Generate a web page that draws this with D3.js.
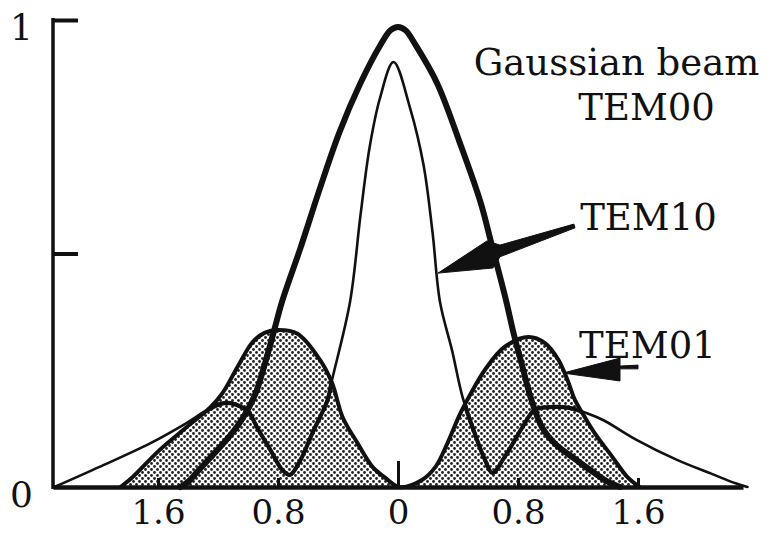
<!DOCTYPE html>
<html>
<head>
<meta charset="utf-8">
<script src="https://cdn.jsdelivr.net/npm/d3@7"></script>
<style>
  html, body { margin: 0; padding: 0; background: #ffffff; }
  svg { display: block; }
  text { font-family: "DejaVu Serif", "Liberation Serif", serif; fill: #111; }
</style>
</head>
<body>
<svg id="chart" width="773" height="535"></svg>
<script>
// Relative intensity profiles of laser transverse modes vs. radial position.

// TEM00 — Gaussian beam
const tem00X = [-1.45, -1.39, -1.34, -1.23, -1.12, -1.03, -0.95, -0.89, -0.83, -0.77, -0.65, -0.52, -0.39, -0.25, -0.12, -0.05, 0,
                0.05, 0.12, 0.26, 0.41, 0.55, 0.63, 0.72, 0.77, 0.83, 0.89, 0.96, 1.05, 1.18, 1.31, 1.40, 1.48];
const tem00Y = [0, 0.014, 0.032, 0.07, 0.11, 0.15, 0.2, 0.261, 0.33, 0.40, 0.512, 0.64, 0.76, 0.865, 0.945, 0.978, 0.985,
                0.978, 0.945, 0.865, 0.739, 0.61, 0.512, 0.40, 0.33, 0.257, 0.186, 0.128, 0.092, 0.06, 0.03, 0.011, 0];

// TEM10 — central peak with two side lobes
const tem10X = [-2.29, -1.99, -1.65, -1.41, -1.27, -1.15, -1.03, -0.99, -0.94, -0.85, -0.77, -0.72, -0.65, -0.57, -0.47, -0.44,
                -0.32, -0.25, -0.19, -0.12, -0.03, 0.08, 0.17, 0.23, 0.28, 0.36, 0.43, 0.51, 0.58, 0.63, 0.71, 0.83,
                0.91, 1.01, 1.15, 1.26, 1.37, 1.59, 1.86, 2.10, 2.25, 2.33];
const tem10Y = [0, 0.043, 0.094, 0.137, 0.165, 0.18, 0.169, 0.158, 0.128, 0.079, 0.036, 0.026, 0.058, 0.116, 0.186, 0.229,
                0.396, 0.582, 0.726, 0.833, 0.91, 0.812, 0.69, 0.546, 0.396, 0.293, 0.193, 0.116, 0.058, 0.03, 0.064, 0.128,
                0.165, 0.171, 0.169, 0.158, 0.143, 0.101, 0.058, 0.027, 0.008, 0];

// TEM01 — two lobes with a null on axis
const tem01X = [-1.85, -1.77, -1.59, -1.41, -1.25, -1.17, -1.07, -0.97, -0.89, -0.80, -0.67, -0.52, -0.44, -0.37, -0.27, -0.17,
                -0.09, 0.01, 0.16, 0.25, 0.33, 0.41, 0.48, 0.58, 0.71, 0.87, 0.98, 1.07, 1.13, 1.18, 1.23, 1.31,
                1.43, 1.53, 1.61];
const tem01Y = [0, 0.021, 0.079, 0.128, 0.171, 0.201, 0.257, 0.31, 0.33, 0.336, 0.328, 0.272, 0.223, 0.15, 0.094, 0.043,
                0.021, 0, 0.015, 0.043, 0.094, 0.154, 0.197, 0.251, 0.30, 0.321, 0.308, 0.272, 0.229, 0.186, 0.158, 0.116,
                0.064, 0.021, 0];

// Axis ticks
const xTicks = [-1.6, -0.8, 0, 0.8, 1.6];
const yTickMarks = [0.5, 1];
const yTickLabels = [0, 1];

// Annotation labels (data coordinates of text centre / baseline)
const labelText = ["Gaussian beam", "TEM00", "TEM10", "TEM01"];
const labelX = [1.457, 1.657, 1.67, 1.663];
const labelY = [0.882, 0.786, 0.55, 0.276];

// Leader arrows (data coordinates)
const arrow10 = [[0.267, 0.458], [0.593, 0.527], [0.68, 0.518], [1.173, 0.563], [1.18, 0.555], [0.68, 0.493], [0.633, 0.469]];
const arrow01 = [[1.10, 0.244], [1.48, 0.276], [1.48, 0.259], [1.60, 0.261], [1.60, 0.253], [1.48, 0.253], [1.48, 0.227]];

const svg = d3.select("#chart");
const W = 773, H = 535;
svg.append("rect").attr("width", W).attr("height", H).attr("fill", "#ffffff");

const x = d3.scaleLinear().domain([-2.3, 2.3]).range([53, 743]);
const y = d3.scaleLinear().domain([0, 1]).range([487, 20]);

const zip = (xs, ys) => xs.map((v, i) => [v, ys[i]]);
const tem00 = zip(tem00X, tem00Y);
const tem10 = zip(tem10X, tem10Y);
const tem01 = zip(tem01X, tem01Y);

// Dot screen for the TEM01 fill
const defs = svg.append("defs");
const pat = defs.append("pattern")
  .attr("id", "dots").attr("patternUnits", "userSpaceOnUse")
  .attr("width", 6).attr("height", 6);
pat.append("rect").attr("width", 6).attr("height", 6).attr("fill", "#ffffff");
pat.append("circle").attr("cx", 1.5).attr("cy", 1.5).attr("r", 1.4).attr("fill", "#222");
pat.append("circle").attr("cx", 4.5).attr("cy", 4.5).attr("r", 1.4).attr("fill", "#222");

const curve = d3.curveCatmullRom.alpha(0.5);
const line = d3.line().x(d => x(d[0])).y(d => y(d[1])).curve(curve);
const area = d3.area().x(d => x(d[0])).y0(y(0)).y1(d => y(d[1])).curve(curve);

defs.append("clipPath").attr("id", "tem01clip")
  .append("path").attr("d", area(tem01));

const plot = svg.append("g");

// TEM01 shaded lobes
plot.append("path").attr("d", area(tem01)).attr("fill", "url(#dots)");

// TEM10 (thin), heavier where it runs through the shaded lobes
plot.append("path").attr("d", line(tem10))
  .attr("fill", "none").attr("stroke", "#111").attr("stroke-width", 2.6)
  .attr("stroke-linejoin", "round").attr("stroke-linecap", "round");
plot.append("path").attr("d", line(tem10)).attr("clip-path", "url(#tem01clip)")
  .attr("fill", "none").attr("stroke", "#111").attr("stroke-width", 4.2)
  .attr("stroke-linejoin", "round");

// TEM01 outline
plot.append("path").attr("d", line(tem01))
  .attr("fill", "none").attr("stroke", "#111").attr("stroke-width", 4)
  .attr("stroke-linejoin", "round").attr("stroke-linecap", "round");

// TEM00 Gaussian (heavy)
plot.append("path").attr("d", line(tem00))
  .attr("fill", "none").attr("stroke", "#111").attr("stroke-width", 6)
  .attr("stroke-linejoin", "round").attr("stroke-linecap", "round");

// X axis
const xAxis = svg.append("g").attr("transform", `translate(0,${y(0)})`)
  .call(d3.axisBottom(x).tickValues(xTicks).tickSizeInner(0).tickSizeOuter(0).tickPadding(13)
    .tickFormat(d => d3.format(".1~f")(Math.abs(d))));
xAxis.select(".domain").attr("stroke", "#111").attr("stroke-width", 4.5);
xAxis.selectAll(".tick line").attr("stroke", "#111").attr("stroke-width", 3)
  .attr("y2", d => d === 0 ? -26 : -9);
xAxis.selectAll(".tick text").attr("font-size", 34).attr("font-family", "DejaVu Serif").attr("fill", "#111");

// Y axis: labels on the left, tick marks pointing inward
const yAxisL = svg.append("g").attr("transform", `translate(${x(-2.3)},0)`)
  .call(d3.axisLeft(y).tickValues(yTickLabels).tickSize(0).tickPadding(20).tickFormat(d3.format("d")));
yAxisL.select(".domain").attr("stroke", "#111").attr("stroke-width", 3.5)
  .attr("d", `M0,${y(0) + 2}V${y(1) - 2}`);
yAxisL.selectAll(".tick text").attr("font-size", 36).attr("font-family", "DejaVu Serif")
  .attr("fill", "#111").attr("dy", "0.55em");

const yAxisR = svg.append("g").attr("transform", `translate(${x(-2.3)},0)`)
  .call(d3.axisRight(y).tickValues(yTickMarks).tickSize(25).tickFormat(""));
yAxisR.select(".domain").remove();
yAxisR.selectAll(".tick line").attr("stroke", "#111").attr("stroke-width", 4);

// Leader arrows
const poly = pts => "M" + pts.map(p => `${x(p[0])},${y(p[1])}`).join("L") + "Z";
svg.append("path").attr("d", poly(arrow10)).attr("fill", "#111").attr("stroke", "#111")
  .attr("stroke-width", 1).attr("stroke-linejoin", "round");
svg.append("path").attr("d", poly(arrow01)).attr("fill", "#111").attr("stroke", "#111")
  .attr("stroke-width", 1).attr("stroke-linejoin", "round");

// Mode labels
svg.append("g").selectAll("text").data(labelText).join("text")
  .attr("x", (d, i) => x(labelX[i]))
  .attr("y", (d, i) => y(labelY[i]))
  .attr("text-anchor", "middle")
  .attr("font-size", 37)
  .text(d => d);
</script>
</body>
</html>
